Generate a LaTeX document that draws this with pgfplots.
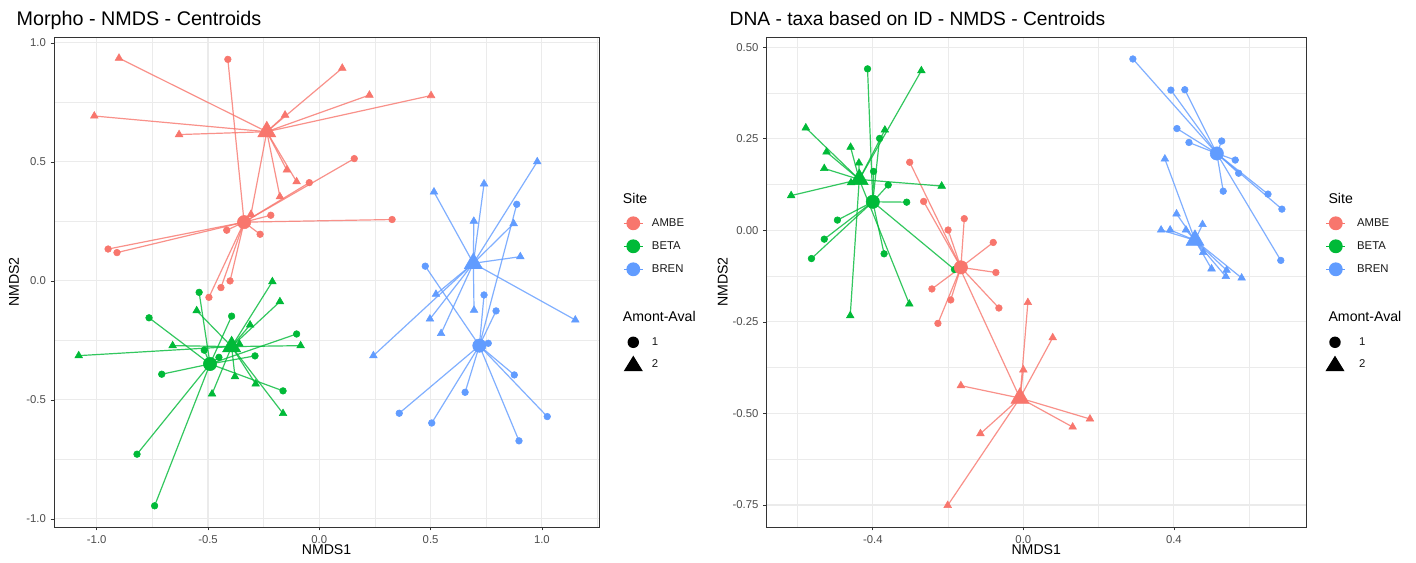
\documentclass[border=0pt]{standalone}
\usepackage{fontspec}
\setmainfont{Liberation Sans}
\usepackage{pgfplots}
\usepackage{pgfplotstable}
\pgfplotsset{compat=1.18}

\definecolor{cA}{HTML}{F8766D}
\definecolor{cB}{HTML}{00BA38}
\definecolor{cC}{HTML}{619CFF}
\definecolor{gridc}{HTML}{EBEBEB}
\definecolor{ticklab}{HTML}{4D4D4D}
\definecolor{frm}{HTML}{333333}

% ---------------- Left panel (Morpho) ----------------
\pgfplotstableread{
x y
-0.900 0.936
-1.011 0.693
-0.630 0.615
-0.154 0.697
-0.146 0.466
-0.102 0.417
-0.177 0.354
-0.307 0.280
0.103 0.894
0.225 0.781
0.502 0.779
}\LAt
\pgfplotstableread{
x y
-0.411 0.931
-0.045 0.413
-0.218 0.276
-0.416 0.213
-0.266 0.196
-0.949 0.134
-0.909 0.119
0.157 0.514
0.327 0.258
-0.401 0.000
-0.442 -0.028
-0.496 -0.069
}\LAc
\pgfplotstableread{
x y
-0.211 -0.003
-0.177 -0.087
-0.551 -0.125
-0.311 -0.185
-0.659 -0.272
-0.359 -0.265
-0.084 -0.272
-1.081 -0.314
-0.379 -0.402
-0.286 -0.433
-0.482 -0.475
-0.163 -0.557
}\LBt
\pgfplotstableread{
x y
-0.540 -0.048
-0.765 -0.155
-0.394 -0.148
-0.102 -0.223
-0.517 -0.291
-0.451 -0.321
-0.289 -0.315
-0.708 -0.392
-0.163 -0.462
-0.819 -0.728
-0.740 -0.945
}\LBc
\pgfplotstableread{
x y
0.979 0.501
0.740 0.408
0.515 0.374
0.873 0.241
0.694 0.251
0.903 0.102
0.524 -0.056
0.497 -0.160
0.547 -0.221
0.243 -0.314
0.695 -0.123
1.150 -0.164
}\LCt
\pgfplotstableread{
x y
0.887 0.322
0.476 0.062
0.740 -0.059
0.794 -0.126
0.759 -0.262
0.876 -0.395
0.655 -0.468
0.359 -0.556
0.505 -0.597
1.024 -0.570
0.897 -0.672
}\LCc

% ---------------- Right panel (DNA) ----------------
\pgfplotstableread{
x y
-0.302 0.186
-0.265 0.079
-0.157 0.032
-0.200 0.001
-0.080 -0.033
-0.073 -0.115
-0.243 -0.160
-0.193 -0.190
-0.065 -0.212
-0.227 -0.254
}\RAc
\pgfplotstableread{
x y
0.012 -0.197
0.078 -0.293
0.000 -0.381
-0.166 -0.424
-0.114 -0.555
-0.201 -0.751
0.131 -0.537
0.177 -0.515
-0.170 -0.100
}\RAt
\pgfplotstableread{
x y
-0.271 0.436
-0.578 0.280
-0.368 0.274
-0.459 0.227
-0.523 0.214
-0.529 0.169
-0.437 0.184
-0.617 0.095
-0.217 0.121
-0.458 0.130
-0.460 -0.233
-0.303 -0.201
}\RBt
\pgfplotstableread{
x y
-0.414 0.441
-0.382 0.251
-0.359 0.124
-0.310 0.077
-0.494 0.028
-0.529 -0.024
-0.563 -0.077
-0.370 -0.064
-0.183 -0.107
-0.398 0.161
}\RBc
\pgfplotstableread{
x y
0.291 0.468
0.392 0.383
0.429 0.384
0.408 0.278
0.440 0.240
0.527 0.244
0.563 0.192
0.572 0.156
0.531 0.107
0.650 0.099
0.687 0.058
0.684 -0.082
}\RCc
\pgfplotstableread{
x y
0.376 0.195
0.407 0.045
0.476 0.016
0.366 0.001
0.390 0.001
0.432 0.001
0.478 -0.060
0.500 -0.105
0.540 -0.109
0.538 -0.126
0.580 -0.130
}\RCt

\newcommand\seg[4]{\addplot[#1, opacity=0.8, line width=0.9pt, mark=none,
  quiver={u={#3-(\thisrow{x})}, v={#4-(\thisrow{y})}}] table {#2};}
\newcommand\ptc[2]{\addplot[#1, only marks, mark=*, mark size=2.5pt] table {#2};}
\newcommand\ptt[2]{\addplot[#1, only marks, mark=triangle*, mark size=3.3pt] table {#2};}
\newcommand\cenc[2]{\addplot[#1, only marks, mark=*, mark size=5pt] coordinates {#2};}
\newcommand\cent[2]{\addplot[#1, only marks, mark=triangle*, mark size=7.8pt] coordinates {#2};}

\pgfplotsset{
  panel/.style={
    anchor=south west, scale only axis,
    axis line style={frm, line width=0.55pt},
    tick align=outside, tick pos=left,
    major tick length=2.6pt, minor tick length=0pt,
    major tick style={frm, line width=0.55pt},
    grid=both,
    major grid style={gridc, line width=0.8pt},
    minor grid style={gridc, line width=0.45pt},
    tick label style={font=\fontsize{8.5}{10}\selectfont, text=ticklab},
  },
  legax/.style={
    at={(0pt,0pt)}, anchor=south west, scale only axis,
    width=1062pt, height=422.25pt, xmin=0, xmax=1, ymin=0, ymax=1, hide axis,
    legend cell align=left,
    legend style={draw=none, fill=none, inner sep=0pt, outer sep=0pt, row sep=0pt,
      anchor=north west,
      nodes={inner sep=0pt, outer sep=0pt, font=\fontsize{8.5}{10}\selectfont, text=black!90}},
  },
  sitekey/.style={legend image code/.code={
      \path[draw=none, fill=none] (-8pt,-8.625pt) rectangle (8pt,8.625pt);
      \draw[#1, line width=0.9pt] (-7pt,0pt) -- (7pt,0pt);
      \fill[#1, draw=none] (0pt,0pt) circle (5.2pt);}},
  aakeyc/.style={legend image code/.code={
      \path[draw=none, fill=none] (-8pt,-8.25pt) rectangle (8pt,8.25pt);
      \fill[black, draw=none] (0pt,0pt) circle (4.3pt);}},
  aakeyt/.style={legend image code/.code={
      \path[draw=none, fill=none] (-8pt,-8.25pt) rectangle (8pt,8.25pt);
      \fill[black, draw=none] (0pt,6.5pt) -- (-7.2pt,-5.2pt) -- (7.2pt,-5.2pt) -- cycle;}},
}

\begin{document}
\begin{tikzpicture}
\fill[white] (0pt,0pt) rectangle (1062pt,422.25pt);

% ---------- Left panel ----------
\begin{axis}[panel, at={(40.5pt,27pt)}, width=408.75pt, height=367.5pt,
  xmin=-1.192, xmax=1.2565, ymin=-1.034, ymax=1.025,
  xtick={-1,-0.5,0,0.5,1}, xticklabels={-1.0,-0.5,0.0,0.5,1.0},
  ytick={-1,-0.5,0,0.5,1}, yticklabels={-1.0,-0.5,0.0,0.5,1.0},
  minor xtick={-0.75,-0.25,0.25,0.75,1.25}, minor ytick={-0.75,-0.25,0.25,0.75}]
\seg{cA}{\LAt}{-0.236}{0.627}
\seg{cA}{\LAc}{-0.338}{0.247}
\seg{cB}{\LBt}{-0.394}{-0.276}
\seg{cB}{\LBc}{-0.491}{-0.349}
\seg{cC}{\LCt}{0.692}{0.074}
\seg{cC}{\LCc}{0.719}{-0.272}
\ptt{cA}{\LAt}\ptc{cA}{\LAc}
\ptt{cB}{\LBt}\ptc{cB}{\LBc}
\ptt{cC}{\LCt}\ptc{cC}{\LCc}
\cent{cA}{(-0.236,0.627)}\cenc{cA}{(-0.338,0.247)}
\cent{cB}{(-0.394,-0.276)}\cenc{cB}{(-0.491,-0.349)}
\cent{cC}{(0.692,0.074)}\cenc{cC}{(0.719,-0.272)}
\end{axis}

% ---------- Right panel ----------
\begin{axis}[panel, at={(575pt,27pt)}, width=404.5pt, height=367.5pt,
  xmin=-0.682, xmax=0.751, ymin=-0.810, ymax=0.528,
  xtick={-0.4,0,0.4}, xticklabels={-0.4,0.0,0.4},
  ytick={-0.75,-0.5,-0.25,0,0.25,0.5}, yticklabels={-0.75,-0.50,-0.25,0.00,0.25,0.50},
  minor xtick={-0.6,-0.2,0.2,0.6}, minor ytick={-0.625,-0.375,-0.125,0.125,0.375}]
\seg{cA}{\RAt}{-0.009}{-0.458}
\seg{cA}{\RAc}{-0.166}{-0.101}
\seg{cB}{\RBt}{-0.436}{0.139}
\seg{cB}{\RBc}{-0.400}{0.078}
\seg{cC}{\RCt}{0.456}{-0.027}
\seg{cC}{\RCc}{0.514}{0.210}
\ptt{cA}{\RAt}\ptc{cA}{\RAc}
\ptt{cB}{\RBt}\ptc{cB}{\RBc}
\ptt{cC}{\RCt}\ptc{cC}{\RCc}
\cent{cA}{(-0.009,-0.458)}\cenc{cA}{(-0.166,-0.101)}
\cent{cB}{(-0.436,0.139)}\cenc{cB}{(-0.400,0.078)}
\cent{cC}{(0.456,-0.027)}\cenc{cC}{(0.514,0.210)}
\end{axis}

% ---------- Legends ----------
\begin{axis}[legax, legend style={at={(0.43969,0.62380)}, column sep=6pt}]
\addlegendimage{sitekey=cA}\addlegendentry{AMBE}
\addlegendimage{sitekey=cB}\addlegendentry{BETA}
\addlegendimage{sitekey=cC}\addlegendentry{BREN}
\end{axis}
\begin{axis}[legax, legend style={at={(0.43969,0.41155)}, column sep=6pt}]
\addlegendimage{aakeyc}\addlegendentry{1}
\addlegendimage{aakeyt}\addlegendentry{2}
\end{axis}
\begin{axis}[legax, legend style={at={(0.93580,0.62380)}, column sep=8pt}]
\addlegendimage{sitekey=cA}\addlegendentry{AMBE}
\addlegendimage{sitekey=cB}\addlegendentry{BETA}
\addlegendimage{sitekey=cC}\addlegendentry{BREN}
\end{axis}
\begin{axis}[legax, legend style={at={(0.93524,0.41155)}, column sep=10pt}]
\addlegendimage{aakeyc}\addlegendentry{1}
\addlegendimage{aakeyt}\addlegendentry{2}
\end{axis}

% ---------- Texts ----------
\node[anchor=base west, font=\fontsize{14.8}{17}\selectfont] at (9pt,402.75pt) {Morpho - NMDS - Centroids};
\node[anchor=base west, font=\fontsize{14.4}{17}\selectfont] at (543.75pt,402.75pt) {DNA - taxa based on ID - NMDS - Centroids};
\node[rotate=90, font=\fontsize{10.6}{12}\selectfont] at (10.5pt,210.75pt) {NMDS2};
\node[rotate=90, font=\fontsize{10.6}{12}\selectfont] at (542pt,210.75pt) {NMDS2};
\node[font=\fontsize{10.6}{12}\selectfont] at (244.9pt,9.75pt) {NMDS1};
\node[font=\fontsize{10.6}{12}\selectfont] at (777.2pt,9.75pt) {NMDS1};
\node[anchor=west, inner sep=0pt, font=\fontsize{10.6}{12}\selectfont] at (467pt,273.5pt) {Site};
\node[anchor=west, inner sep=0pt, font=\fontsize{10.6}{12}\selectfont] at (996.2pt,273.5pt) {Site};
\node[anchor=west, inner sep=0pt, font=\fontsize{10.6}{12}\selectfont] at (467pt,184.7pt) {Amont-Aval};
\node[anchor=west, inner sep=0pt, font=\fontsize{10.6}{12}\selectfont] at (996.2pt,184.7pt) {Amont-Aval};

\pgfresetboundingbox
\path[use as bounding box] (0pt,0pt) rectangle (1062pt,422.25pt);
\end{tikzpicture}
\end{document}
